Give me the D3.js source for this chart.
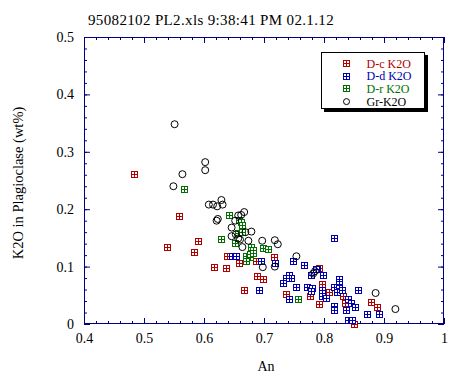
<!DOCTYPE html>
<html>
<head>
<meta charset="utf-8">
<script src="https://cdn.jsdelivr.net/npm/d3@7"></script>
<style>
  body { margin: 0; background: #fff; }
  svg { display: block; font-family: "Liberation Serif", "Times New Roman", serif; }
</style>
</head>
<body>
<div id="chart"></div>
<script>
// data: [An, K2O wt%]
const dcPoints = [
  [0.484, 0.261], [0.538, 0.135], [0.559, 0.188], [0.590, 0.145], [0.584, 0.125],
  [0.638, 0.118], [0.658, 0.107], [0.616, 0.099], [0.637, 0.097], [0.687, 0.110],
  [0.717, 0.116], [0.689, 0.084], [0.699, 0.078], [0.667, 0.060], [0.737, 0.052],
  [0.777, 0.048], [0.792, 0.097], [0.797, 0.069], [0.808, 0.055], [0.792, 0.035],
  [0.832, 0.049], [0.835, 0.036], [0.850, 0.000], [0.878, 0.039], [0.888, 0.029]
];
const ddPoints = [
  [0.646, 0.118], [0.653, 0.118], [0.695, 0.110], [0.718, 0.106], [0.749, 0.110],
  [0.766, 0.102], [0.788, 0.096], [0.787, 0.095], [0.779, 0.085], [0.798, 0.085],
  [0.741, 0.085], [0.745, 0.080], [0.736, 0.080], [0.732, 0.072], [0.754, 0.064],
  [0.691, 0.059], [0.772, 0.064], [0.780, 0.062], [0.778, 0.057], [0.797, 0.060],
  [0.742, 0.044], [0.796, 0.048], [0.803, 0.046], [0.817, 0.149], [0.816, 0.064],
  [0.825, 0.078], [0.825, 0.070], [0.825, 0.062], [0.821, 0.056], [0.830, 0.059],
  [0.840, 0.044], [0.845, 0.036], [0.852, 0.029], [0.857, 0.059], [0.816, 0.031],
  [0.816, 0.024], [0.836, 0.024], [0.840, 0.007], [0.846, 0.007], [0.871, 0.017],
  [0.892, 0.017]
];
const drPoints = [
  [0.566, 0.235], [0.641, 0.190], [0.629, 0.148], [0.659, 0.181], [0.662, 0.177],
  [0.664, 0.173], [0.657, 0.159], [0.664, 0.160], [0.652, 0.141], [0.678, 0.135],
  [0.681, 0.129], [0.699, 0.132], [0.707, 0.130], [0.670, 0.118], [0.677, 0.116],
  [0.677, 0.122], [0.670, 0.110], [0.682, 0.123], [0.757, 0.044]
];
const grPoints = [
  [0.551, 0.348], [0.602, 0.282], [0.602, 0.268], [0.564, 0.261], [0.549, 0.240],
  [0.608, 0.208], [0.615, 0.208], [0.622, 0.205], [0.629, 0.216], [0.631, 0.208],
  [0.621, 0.180], [0.623, 0.183], [0.657, 0.189], [0.662, 0.190], [0.667, 0.195],
  [0.652, 0.180], [0.646, 0.168], [0.679, 0.161], [0.669, 0.160], [0.646, 0.153],
  [0.653, 0.156], [0.657, 0.149], [0.660, 0.147], [0.674, 0.145], [0.697, 0.145],
  [0.718, 0.146], [0.723, 0.139], [0.664, 0.134], [0.754, 0.118], [0.718, 0.100],
  [0.698, 0.099], [0.782, 0.088], [0.785, 0.092], [0.886, 0.054], [0.919, 0.026]
];
const xTicks = [0.4, 0.5, 0.6, 0.7, 0.8, 0.9, 1];
const yTicks = [0, 0.1, 0.2, 0.3, 0.4, 0.5];
const seriesNames = ["D-c K2O", "D-d K2O", "D-r K2O", "Gr-K2O"];

const W = 474, H = 377;
const navy = "#000080";
const colors = ["#b00000", "#0000b0", "#007000", "#000"];

const svg = d3.select("#chart").append("svg").attr("width", W).attr("height", H);

const x = d3.scaleLinear().domain([0.4, 1]).range([84, 444]);
const y = d3.scaleLinear().domain([0, 0.5]).range([324, 37]);
const xMinor = d3.range(0.4, 1.0001, 0.02);
const yMinor = d3.range(0, 0.5001, 0.02);

function styleAxis(g) {
  g.selectAll(".domain").remove();
  g.selectAll("line").attr("stroke", navy);
  g.selectAll("text").attr("fill", "#000").attr("font-size", "14px")
    .attr("font-family", "Liberation Serif, serif");
}

// minor ticks, all four sides
svg.append("g").attr("transform", "translate(0,324)")
  .call(d3.axisBottom(x).tickValues(xMinor).tickSize(-3).tickFormat("")).call(styleAxis);
svg.append("g").attr("transform", "translate(0,37)")
  .call(d3.axisTop(x).tickValues(xMinor).tickSize(-3).tickFormat("")).call(styleAxis);
svg.append("g").attr("transform", "translate(84,0)")
  .call(d3.axisLeft(y).tickValues(yMinor).tickSize(-3).tickFormat("")).call(styleAxis);
svg.append("g").attr("transform", "translate(444,0)")
  .call(d3.axisRight(y).tickValues(yMinor).tickSize(-3).tickFormat("")).call(styleAxis);

// major ticks with labels
svg.append("g").attr("transform", "translate(0,324)")
  .call(d3.axisBottom(x).tickValues(xTicks).tickSize(-6).tickPadding(9).tickFormat(d3.format("")))
  .call(styleAxis);
svg.append("g").attr("transform", "translate(0,37)")
  .call(d3.axisTop(x).tickValues(xTicks).tickSize(-6).tickFormat("")).call(styleAxis);
svg.append("g").attr("transform", "translate(84,0)")
  .call(d3.axisLeft(y).tickValues(yTicks).tickSize(-6).tickPadding(10).tickFormat(d3.format("")))
  .call(styleAxis);
svg.append("g").attr("transform", "translate(444,0)")
  .call(d3.axisRight(y).tickValues(yTicks).tickSize(-6).tickFormat("")).call(styleAxis);

// frame
svg.append("rect")
  .attr("x", 84.5).attr("y", 37.5).attr("width", 359).attr("height", 286)
  .attr("fill", "none").attr("stroke", navy);

// markers
function squareMark(g, pts, color) {
  const m = g.selectAll(null).data(pts).enter().append("g")
    .attr("transform", d => `translate(${Math.round(x(d[0])) + 0.5},${Math.round(y(d[1])) + 0.5})`)
    .attr("shape-rendering", "crispEdges");
  m.append("rect").attr("x", -3).attr("y", -3).attr("width", 6).attr("height", 6)
    .attr("fill", "#fff").attr("stroke", color);
  m.append("path").attr("d", "M-3,0H3M0,-3V3").attr("stroke", color);
}

const plot = svg.append("g");
squareMark(plot, dcPoints, colors[0]);
squareMark(plot, ddPoints, colors[1]);
squareMark(plot, drPoints, colors[2]);
plot.selectAll(null).data(grPoints).enter().append("circle")
  .attr("cx", d => x(d[0])).attr("cy", d => y(d[1])).attr("r", 3.5)
  .attr("fill", "none").attr("stroke", "#000");

// legend
const lg = svg.append("g").attr("transform", "translate(321,52)");
lg.append("rect").attr("x", 3).attr("y", 3).attr("width", 104).attr("height", 57).attr("fill", "#000");
lg.append("rect").attr("x", 0.5).attr("y", 0.5).attr("width", 103).attr("height", 56)
  .attr("fill", "#fff").attr("stroke", "#000");
seriesNames.forEach((name, i) => {
  const row = lg.append("g").attr("transform", `translate(25.5,${11.5 + i * 12.7})`);
  if (i < 3) {
    row.append("rect").attr("x", -3).attr("y", -3).attr("width", 6).attr("height", 6)
      .attr("fill", "#fff").attr("stroke", colors[i]).attr("shape-rendering", "crispEdges");
    row.append("path").attr("d", "M-3,0H3M0,-3V3").attr("stroke", colors[i])
      .attr("shape-rendering", "crispEdges");
  } else {
    row.append("circle").attr("r", 3).attr("fill", "none").attr("stroke", "#000");
  }
  row.append("text").attr("x", 20).attr("y", 4).attr("font-size", "12px")
    .attr("fill", colors[i]).text(name);
});

// titles
svg.append("text").attr("x", 88).attr("y", 25).attr("font-size", "15px")
  .attr("letter-spacing", "0.35px").text("95082102 PL2.xls 9:38:41 PM 02.1.12");
svg.append("text").attr("x", 266).attr("y", 371).attr("text-anchor", "middle").attr("font-size", "14px").text("An");
svg.append("text").attr("transform", "translate(23,183) rotate(-90)")
  .attr("text-anchor", "middle").attr("font-size", "14.5px").text("K2O in Plagioclase (wt%)");
</script>
</body>
</html>
